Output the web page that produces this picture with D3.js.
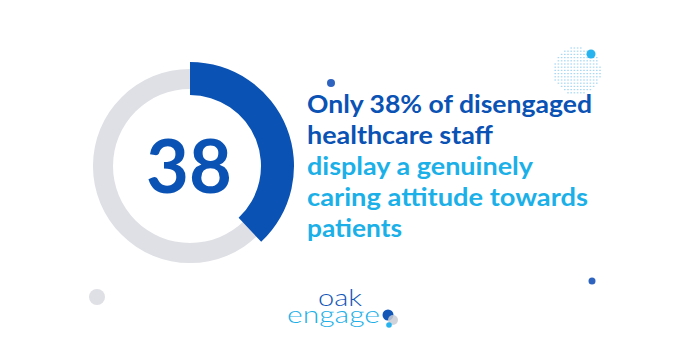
<!DOCTYPE html>
<html>
<head>
<meta charset="utf-8">
<script src="https://d3js.org/d3.v7.min.js"></script>
<style>
  html, body { margin: 0; padding: 0; background: #fff; }
  svg { display: block; }
</style>
</head>
<body>
<div id="chart"></div>
<script>
// data
var statValue = [38];
var statTotal = [100];
var headLines = ["Only 38% of disengaged", "healthcare staff"];
var subLines = ["display a genuinely", "caring attitude towards", "patients"];
var lineWidths = [285, 186, 226, 281, 95];
var logoWords = ["oak", "engage"];

var W = 686, H = 360;
var darkBlue = "#0a52b4", cyan = "#1cb0e8", ring = "#dfe0e5";

var svg = d3.select("#chart").append("svg")
    .attr("width", W).attr("height", H);

// donut
var cx = 190, cy = 166;
var g = svg.append("g").attr("transform", "translate(" + cx + "," + cy + ")");

var angle = d3.scaleLinear().domain([0, statTotal[0]]).range([0, 2 * Math.PI]);

var bgArc = d3.arc().innerRadius(77).outerRadius(97).startAngle(0).endAngle(2 * Math.PI);
var valArc = d3.arc().innerRadius(71).outerRadius(104);

g.append("path").attr("d", bgArc()).attr("fill", ring);
g.selectAll("path.val")
    .data(statValue)
    .enter().append("path")
    .attr("class", "val")
    .attr("d", function(d) { return valArc({startAngle: 0, endAngle: angle(d)}); })
    .attr("fill", darkBlue);

g.append("text")
    .text(statValue[0])
    .attr("x", -1).attr("y", 27)
    .attr("text-anchor", "middle")
    .attr("font-family", "Lato, sans-serif")
    .attr("font-weight", 700)
    .attr("font-size", 74)
    .attr("fill", darkBlue);

// text block
var lines = headLines.map(function(t) { return {t: t, c: darkBlue}; })
    .concat(subLines.map(function(t) { return {t: t, c: cyan}; }));
var yLine = d3.scaleLinear().domain([0, 1]).range([113, 144]);

svg.selectAll("text.line")
    .data(lines)
    .enter().append("text")
    .attr("class", "line")
    .attr("x", 307)
    .attr("y", function(d, i) { return yLine(i); })
    .attr("font-family", "Lato, sans-serif")
    .attr("font-weight", 700)
    .attr("font-size", 25)
    .attr("textLength", function(d, i) { return lineWidths[i]; })
    .attr("lengthAdjust", "spacingAndGlyphs")
    .attr("fill", function(d) { return d.c; })
    .text(function(d) { return d.t; });

// decoration dots
var dots = [
    {x: 97, y: 297, r: 8, c: ring},
    {x: 331, y: 83, r: 4, c: "#2f63c0"},
    {x: 592, y: 281, r: 3.5, c: "#2f63c0"},
    {x: 591, y: 54, r: 4.5, c: "#27b4ee"}
];

// dotted circle pattern
var pat = [];
d3.range(552, 603, 3.2).forEach(function(x) {
    d3.range(48, 95, 3.2).forEach(function(y) {
        if ((x - 577) * (x - 577) + (y - 71) * (y - 71) < 24 * 24) pat.push({x: x, y: y});
    });
});
svg.selectAll("rect.pat")
    .data(pat)
    .enter().append("rect")
    .attr("class", "pat")
    .attr("x", function(d) { return d.x - 0.8; })
    .attr("y", function(d) { return d.y - 0.6; })
    .attr("width", 1.6).attr("height", 1.2)
    .attr("fill", "#a9d8f3");

svg.selectAll("circle.dot")
    .data(dots)
    .enter().append("circle")
    .attr("class", "dot")
    .attr("cx", function(d) { return d.x; })
    .attr("cy", function(d) { return d.y; })
    .attr("r", function(d) { return d.r; })
    .attr("fill", function(d) { return d.c; });

// logo (one text, two lines)
var logo = svg.append("g");
var lt = logo.append("text")
    .attr("font-family", "Lato, sans-serif").attr("font-weight", 300)
    .attr("font-size", 23);
lt.append("tspan").text(logoWords[0])
    .attr("x", 318).attr("y", 306)
    .attr("textLength", 44).attr("lengthAdjust", "spacingAndGlyphs")
    .attr("fill", "#1257b8");
lt.append("tspan").text(logoWords[1])
    .attr("x", 287).attr("y", 323)
    .attr("textLength", 93).attr("lengthAdjust", "spacingAndGlyphs")
    .attr("fill", cyan);
logo.append("circle").attr("cx", 388).attr("cy", 315).attr("r", 5.5).attr("fill", "#1257b8");
logo.append("circle").attr("cx", 393).attr("cy", 320).attr("r", 5).attr("fill", "#c9cbd3").attr("opacity", 0.85);
logo.append("circle").attr("cx", 389).attr("cy", 325).attr("r", 2.8).attr("fill", "#27b4ee");
</script>
</body>
</html>
